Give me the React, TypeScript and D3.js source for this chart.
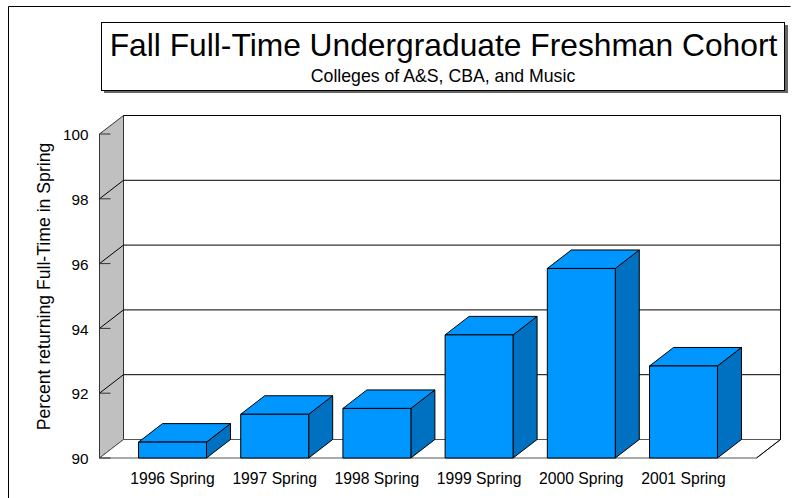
import { axisLeft, scaleBand, scaleLinear, select } from "d3";
import { useEffect, useRef } from "react";

const terms = ["1996 Spring", "1997 Spring", "1998 Spring", "1999 Spring", "2000 Spring", "2001 Spring"];
const percentReturning = [90.49, 91.35, 91.53, 93.8, 95.85, 92.84];
const yTicks = [90, 92, 94, 96, 98, 100];

const font = "Liberation Sans, Arial, sans-serif";
const depthX = 24;
const depthY = 18.5;
const left = 99.5;
const right = 756.5;
const bottom = 458;
const top = 134;

function App() {
  const axisRef = useRef<SVGGElement>(null);

  const x = scaleBand().domain(terms).range([121.4, 734.6]).paddingInner(0.335).paddingOuter(0.1675);
  const y = scaleLinear().domain([90, 100]).range([bottom, top]);

  useEffect(() => {
    const axis = select(axisRef.current!);
    axis.call(axisLeft(y).tickValues(yTicks).tickSize(0).tickPadding(11) as any);
    axis.select(".domain").remove();
    axis.selectAll("text").attr("font-family", font).attr("font-size", 15.3).attr("dy", "0.37em").attr("fill", "#000");
  }, []);

  return (
    <svg width={798} height={498} style={{ position: "absolute", left: 0, top: 0, background: "#fff" }}>
      {/* outer frame */}
      <path d="M8.5 498V6.5H790.5" fill="none" stroke="#000" />

      {/* title box */}
      <rect x={104} y={25} width={684} height={68} fill="#666" />
      <rect x={101.5} y={22.5} width={683} height={68} fill="#fff" stroke="#000" />
      <text x={443.5} y={55.5} textAnchor="middle" fontFamily={font} fontSize={31.75}>
        Fall Full-Time Undergraduate Freshman Cohort
      </text>
      <text x={443} y={82} textAnchor="middle" fontFamily={font} fontSize={17.7}>
        Colleges of A&amp;S, CBA, and Music
      </text>

      {/* walls and floor */}
      <rect x={left + depthX} y={top - depthY} width={right - left} height={bottom - top} fill="#fff" stroke="#000" />
      <polygon
        points={`${left},${top} ${left + depthX},${top - depthY} ${left + depthX},${bottom - depthY} ${left},${bottom}`}
        fill="#c0c0c0"
        stroke="#333"
      />
      <polygon
        points={`${left},${bottom} ${left + depthX},${bottom - depthY} ${right + depthX},${bottom - depthY} ${right},${bottom}`}
        fill="#fff"
        stroke="#555"
      />

      {/* grid lines */}
      {yTicks.slice(1, -1).map((t) => (
        <path
          key={t}
          d={`M${left} ${y(t)}L${left + depthX} ${y(t) - depthY}H${right + depthX}`}
          fill="none"
          stroke="#000"
        />
      ))}
      {yTicks.map((t) => (
        <line key={t} x1={left} x2={left + 11} y1={y(t)} y2={y(t)} stroke="#333" />
      ))}
      <line x1={right} y1={bottom} x2={right + depthX} y2={bottom - depthY} stroke="#000" />

      <g ref={axisRef} transform={`translate(${left},0)`} />

      {/* bars */}
      {terms.map((term, i) => {
        const bx = x(term)!;
        const w = x.bandwidth();
        const by = y(percentReturning[i]);
        return (
          <g key={term} stroke="#000" strokeLinejoin="round">
            <polygon
              points={`${bx + w},${by} ${bx + w + depthX},${by - depthY} ${bx + w + depthX},${bottom - depthY} ${bx + w},${bottom}`}
              fill="#0070c0"
            />
            <polygon
              points={`${bx},${by} ${bx + depthX},${by - depthY} ${bx + w + depthX},${by - depthY} ${bx + w},${by}`}
              fill="#0096ff"
            />
            <rect x={bx} y={by} width={w} height={bottom - by} fill="#0096ff" />
            <text
              x={bx + w / 2}
              y={484.3}
              textAnchor="middle"
              fontFamily={font}
              fontSize={15.7}
              fill="#000"
              stroke="none"
            >
              {term}
            </text>
          </g>
        );
      })}

      <text
        transform="translate(50,286.5) rotate(-90)"
        textAnchor="middle"
        fontFamily={font}
        fontSize={17.65}
      >
        Percent returning Full-Time in Spring
      </text>
    </svg>
  );
}

export default App;
